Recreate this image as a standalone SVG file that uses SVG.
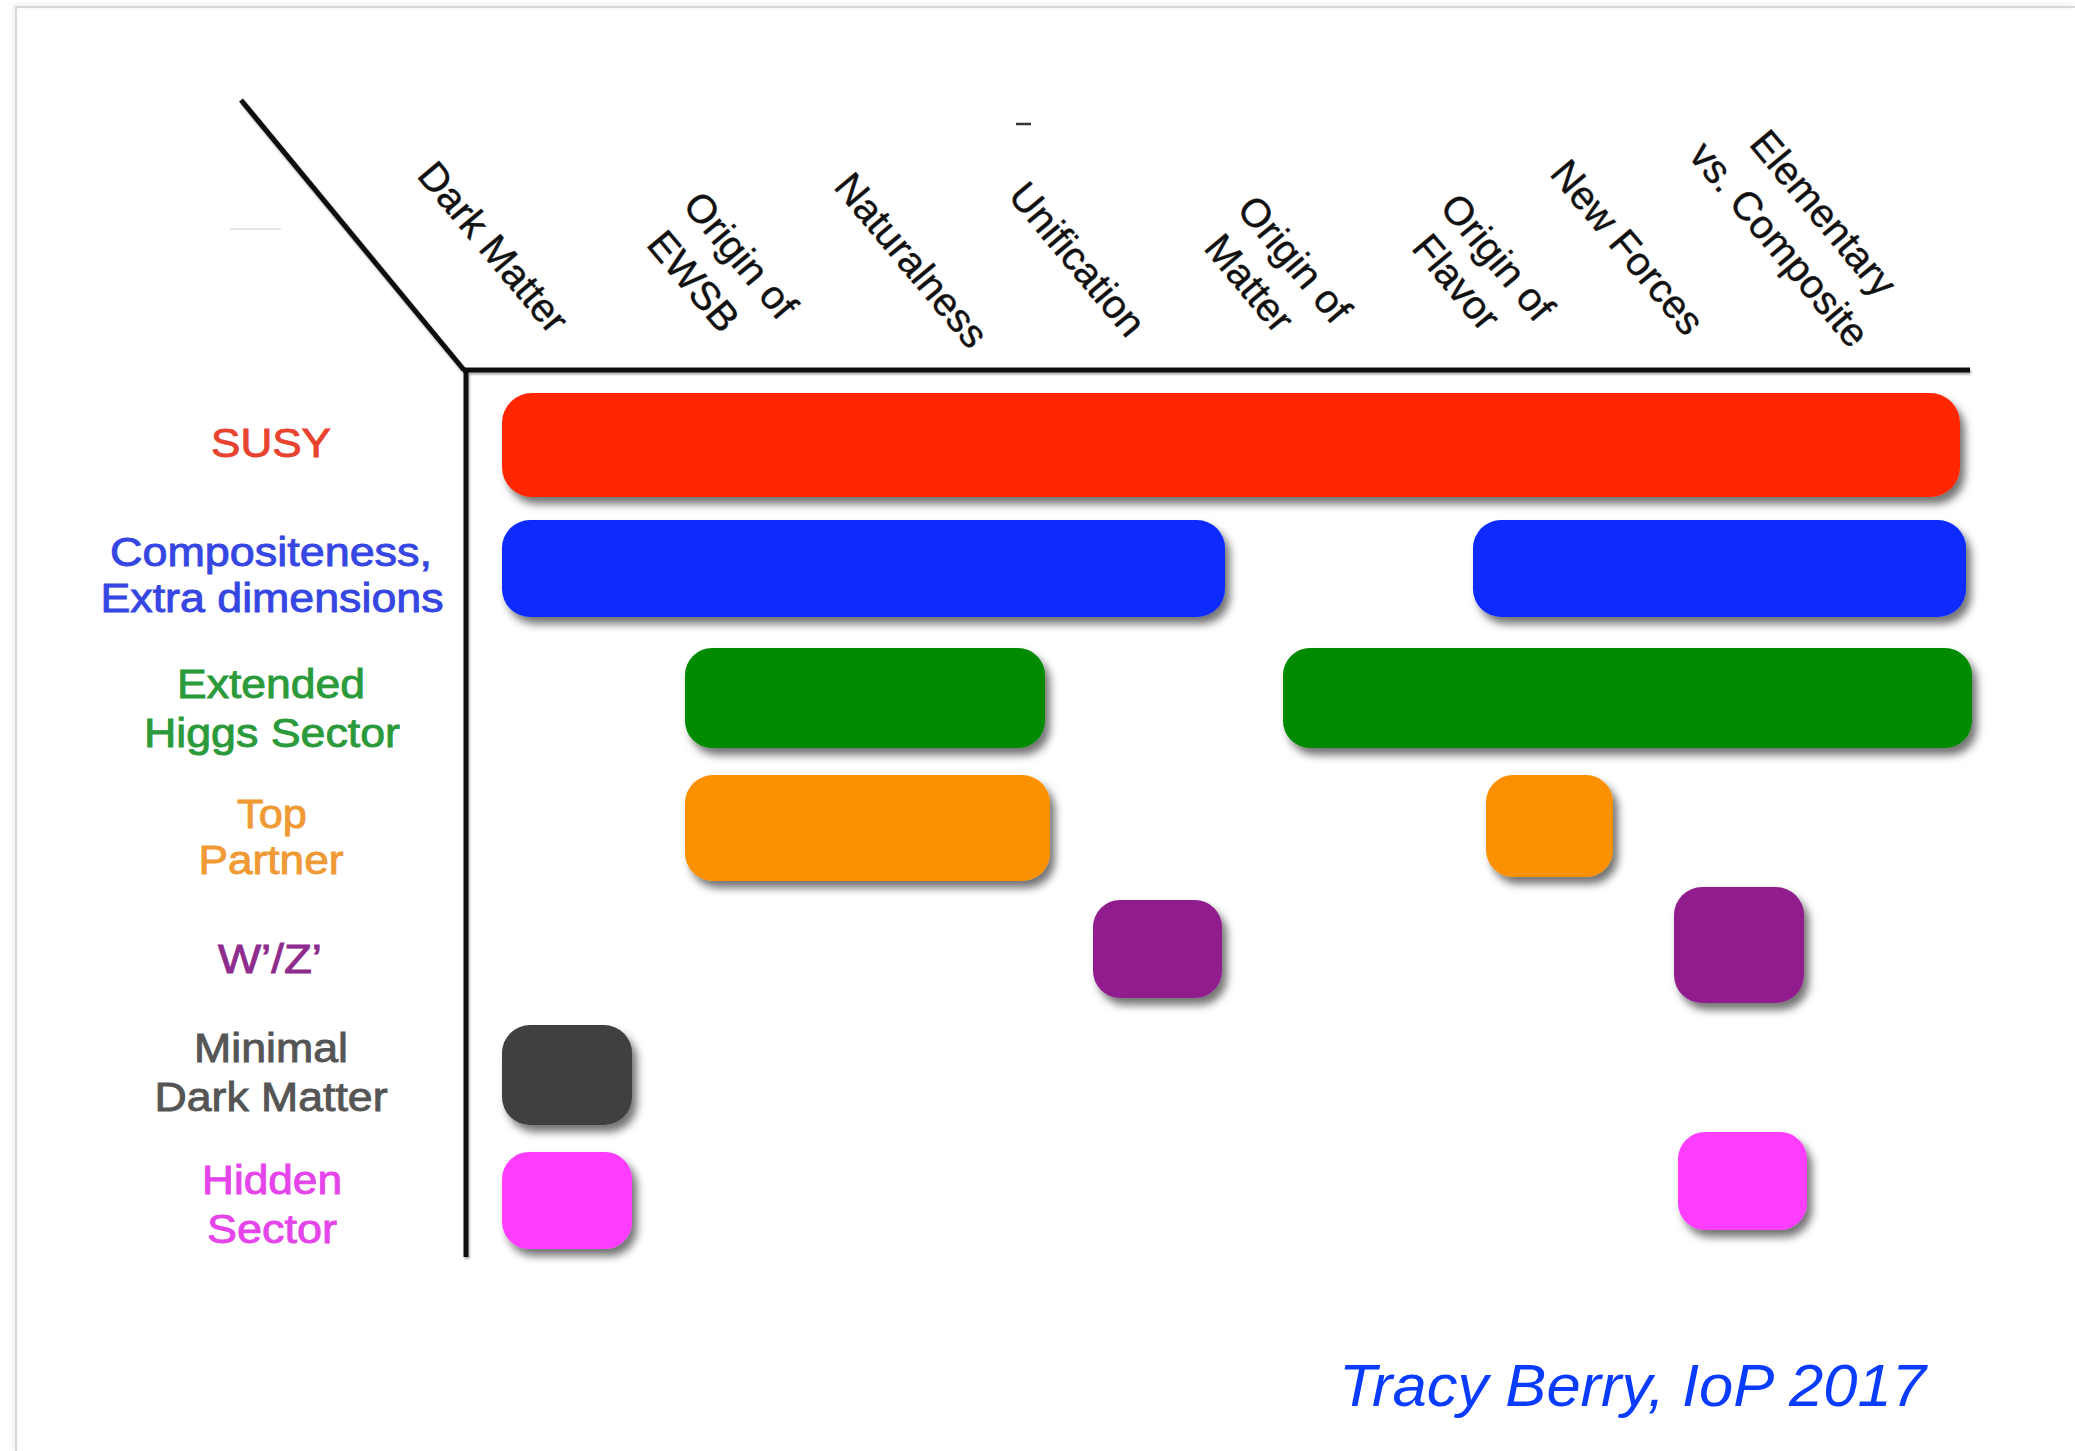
<svg xmlns="http://www.w3.org/2000/svg" width="2075" height="1451" viewBox="0 0 2075 1451">
  <defs>
    <filter id="sh" x="-20%" y="-30%" width="140%" height="170%">
      <feDropShadow dx="5" dy="7" stdDeviation="4" flood-color="#000" flood-opacity="0.55"/>
    </filter>
    <filter id="lsh" x="-5%" y="-5%" width="110%" height="110%">
      <feDropShadow dx="1" dy="2" stdDeviation="1.2" flood-color="#000" flood-opacity="0.35"/>
    </filter>
    <filter id="fsh" x="-5%" y="-5%" width="110%" height="110%">
      <feDropShadow dx="-2" dy="-1" stdDeviation="2" flood-color="#000" flood-opacity="0.12"/>
    </filter>
  </defs>
  <style>
    .hd { font-family: "Liberation Sans", Arial, sans-serif; font-size: 40px; fill: #111; stroke: #111; stroke-width: 0.4; text-anchor: middle; }
    .lb { font-family: "Liberation Sans", Arial, sans-serif; font-size: 40px; text-anchor: middle; stroke-width: 0.9; }
    .bar { filter: url(#sh); }
    .ax { stroke: #111; stroke-width: 5; fill: none; stroke-linecap: butt; }
  </style>

  <rect width="2075" height="1451" fill="#ffffff"/>
  <path d="M16,1451 V7 H2075" fill="none" stroke="#d9d9d9" stroke-width="2" filter="url(#fsh)"/>

  <!-- small stray marks -->
  <line x1="1016" y1="124" x2="1031" y2="124" stroke="#333" stroke-width="2.5"/>
  <line x1="230" y1="229" x2="281" y2="229" stroke="#e4e4e4" stroke-width="2"/>

  <!-- column headers -->
  <g id="columns">
    <text class="hd" transform="translate(483,256) rotate(50)">Dark Matter</text>
    <text class="hd" transform="translate(730,264) rotate(50)">Origin of</text>
    <text class="hd" transform="translate(683,290) rotate(50)">EWSB</text>
    <text class="hd" transform="translate(901,269) rotate(50)">Naturalness</text>
    <text class="hd" transform="translate(1067,268) rotate(50)">Unification</text>
    <text class="hd" transform="translate(1284,268) rotate(50)">Origin of</text>
    <text class="hd" transform="translate(1239,292) rotate(50)">Matter</text>
    <text class="hd" transform="translate(1487,266) rotate(50)">Origin of</text>
    <text class="hd" transform="translate(1446,291) rotate(50)">Flavor</text>
    <text class="hd" transform="translate(1617,256) rotate(50)">New Forces</text>
    <text class="hd" transform="translate(1813,222) rotate(50)">Elementary</text>
    <text class="hd" transform="translate(1769,253) rotate(50)">vs. Composite</text>
  </g>

  <!-- axes -->
  <g id="connectors" filter="url(#lsh)">
    <line class="ax" x1="241" y1="100" x2="464" y2="370" stroke-width="4"/>
    <line class="ax" x1="463" y1="370" x2="1970" y2="370"/>
    <line class="ax" x1="466" y1="368" x2="466" y2="1257"/>
  </g>

  <!-- row labels -->
  <g id="label-susy"><text class="lb" x="271" y="457" fill="#e8432f" stroke="#e8432f" textLength="120" lengthAdjust="spacingAndGlyphs">SUSY</text></g>
  <g id="label-composite">
    <text class="lb" x="271" y="566" fill="#3546e2" stroke="#3546e2" textLength="322" lengthAdjust="spacingAndGlyphs">Compositeness,</text>
    <text class="lb" x="272" y="612" fill="#3546e2" stroke="#3546e2" textLength="343" lengthAdjust="spacingAndGlyphs">Extra dimensions</text>
  </g>
  <g id="label-higgs">
    <text class="lb" x="271" y="698" fill="#2b9a3a" stroke="#2b9a3a" textLength="188" lengthAdjust="spacingAndGlyphs">Extended</text>
    <text class="lb" x="272" y="747" fill="#2b9a3a" stroke="#2b9a3a" textLength="256" lengthAdjust="spacingAndGlyphs">Higgs Sector</text>
  </g>
  <g id="label-top">
    <text class="lb" x="272" y="828" fill="#f09a35" stroke="#f09a35" textLength="70" lengthAdjust="spacingAndGlyphs">Top</text>
    <text class="lb" x="271" y="874" fill="#f09a35" stroke="#f09a35" textLength="145" lengthAdjust="spacingAndGlyphs">Partner</text>
  </g>
  <g id="label-wz"><text class="lb" x="270" y="973" fill="#8e2c8e" stroke="#8e2c8e" textLength="104" lengthAdjust="spacingAndGlyphs">W’/Z’</text></g>
  <g id="label-mdm">
    <text class="lb" x="271" y="1062" fill="#555555" stroke="#555555" textLength="154" lengthAdjust="spacingAndGlyphs">Minimal</text>
    <text class="lb" x="271" y="1111" fill="#555555" stroke="#555555" textLength="233" lengthAdjust="spacingAndGlyphs">Dark Matter</text>
  </g>
  <g id="label-hidden">
    <text class="lb" x="272" y="1194" fill="#e444ea" stroke="#e444ea" textLength="140" lengthAdjust="spacingAndGlyphs">Hidden</text>
    <text class="lb" x="272" y="1243" fill="#e444ea" stroke="#e444ea" textLength="130" lengthAdjust="spacingAndGlyphs">Sector</text>
  </g>

  <!-- bars -->
  <g id="bar-susy"><rect class="bar" x="502" y="393" width="1458" height="104" rx="30" fill="#ff2600"/></g>
  <g id="bar-composite-1"><rect class="bar" x="502" y="520" width="723" height="97" rx="28" fill="#0a2bff"/></g>
  <g id="bar-composite-2"><rect class="bar" x="1473" y="520" width="493" height="97" rx="28" fill="#0a2bff"/></g>
  <g id="bar-higgs-1"><rect class="bar" x="685" y="648" width="360" height="100" rx="27" fill="#008a00"/></g>
  <g id="bar-higgs-2"><rect class="bar" x="1283" y="648" width="689" height="100" rx="27" fill="#008a00"/></g>
  <g id="bar-top-1"><rect class="bar" x="685" y="775" width="365" height="106" rx="28" fill="#fb9100"/></g>
  <g id="bar-top-2"><rect class="bar" x="1486" y="775" width="127" height="102" rx="27" fill="#fb9100"/></g>
  <g id="bar-wz-1"><rect class="bar" x="1093" y="900" width="129" height="98" rx="27" fill="#911f8e"/></g>
  <g id="bar-wz-2"><rect class="bar" x="1674" y="887" width="130" height="116" rx="28" fill="#911f8e"/></g>
  <g id="bar-mdm"><rect class="bar" x="502" y="1025" width="130" height="100" rx="28" fill="#404040"/></g>
  <g id="bar-hidden-1"><rect class="bar" x="502" y="1152" width="130" height="97" rx="27" fill="#ff3cff"/></g>
  <g id="bar-hidden-2"><rect class="bar" x="1678" y="1132" width="129" height="98" rx="27" fill="#ff3cff"/></g>

  <!-- credit -->
  <g id="credit">
    <text x="1339" y="1406" font-family="'Liberation Sans', Arial, sans-serif" font-size="60" font-style="italic" fill="#0a3cff" textLength="587" lengthAdjust="spacingAndGlyphs">Tracy Berry, IoP 2017</text>
  </g>
</svg>
